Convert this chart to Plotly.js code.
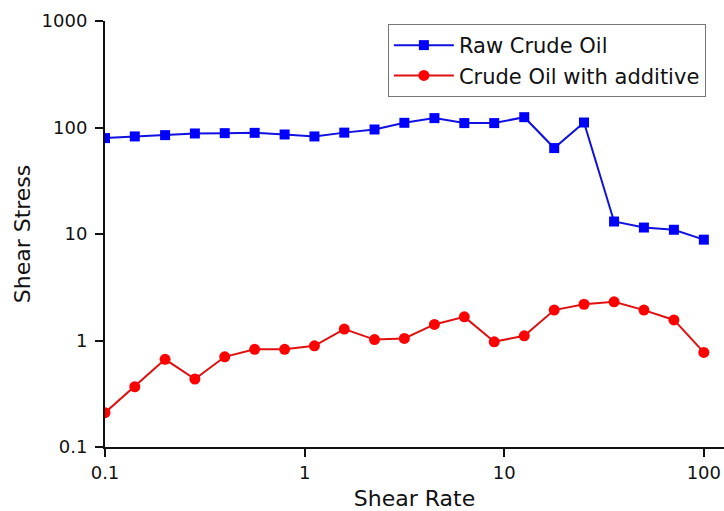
<!DOCTYPE html>
<html>
<head>
<meta charset="utf-8">
<script src="https://cdn.plot.ly/plotly-3.0.1.min.js"></script>
<style>html,body{margin:0;padding:0;background:#fff;}#chart{width:724px;height:511px;}</style>
</head>
<body>
<div id="chart"></div>
<script>
const shearRate = [0.1, 0.141, 0.2, 0.282, 0.398, 0.562, 0.794, 1.12, 1.58, 2.24, 3.16, 4.47, 6.31, 8.91, 12.6, 17.8, 25.1, 35.5, 50.1, 70.8, 100];
const rawCrude = [79.5, 82.4, 84.8, 87.9, 88.5, 89.1, 86, 82.4, 89.5, 95.8, 110.7, 122.5, 110, 110, 125, 64.1, 111.4, 13.1, 11.5, 10.96, 8.85];
const withAdditive = [0.21, 0.368, 0.665, 0.435, 0.703, 0.826, 0.826, 0.891, 1.28, 1.02, 1.046, 1.416, 1.667, 0.973, 1.107, 1.93, 2.19, 2.31, 1.93, 1.56, 0.773];
const seriesNames = ["Raw Crude Oil", "Crude Oil with additive"];
const yTickVals = [0.1, 1, 10, 100, 1000];
const yTickText = ["0.1", "1", "10", "100", "1000"];
const xTickVals = [0.1, 1, 10, 100];
const xTickText = ["0.1", "1", "10", "100"];
const minorDigits = [2, 3, 4, 5, 6, 7, 8, 9];
const yDecades = [0.1, 1, 10, 100];
const xDecades = [0.1, 1, 10, 100];

const yMinor = [];
yDecades.forEach(function (d) { minorDigits.forEach(function (m) { yMinor.push(d * m); }); });
const xMinor = [];
xDecades.forEach(function (d) { minorDigits.forEach(function (m) { xMinor.push(d * m); }); });

const font = "DejaVu Sans, Verdana, sans-serif";
const xRange = [-1, 2.101];
const yRange = [-1, 3];

const traces = [
  {
    x: shearRate, y: rawCrude, name: seriesNames[0], type: "scatter", mode: "lines+markers",
    line: {color: "#1010e0", width: 2},
    marker: {symbol: "square", size: 10, color: "#0000ff"}
  },
  {
    x: shearRate, y: withAdditive, name: seriesNames[1], type: "scatter", mode: "lines+markers",
    line: {color: "#e01010", width: 2},
    marker: {symbol: "circle", size: 11, color: "#ff0000"}
  }
];

const axisCommon = {
  type: "log",
  showline: true, linecolor: "#111", linewidth: 2,
  showgrid: false, zeroline: false,
  ticks: "outside", ticklen: 8, tickwidth: 2, tickcolor: "#111",
  tickfont: {family: font, size: 18, color: "#111"}
};

const minorCommon = {
  type: "log", tickmode: "array",
  showline: false, showgrid: false, zeroline: false, showticklabels: false,
  ticks: "outside", ticklen: 4, tickwidth: 1.5, tickcolor: "#222"
};

const layout = {
  width: 724, height: 511,
  margin: {l: 105, r: 0, t: 21, b: 64},
  paper_bgcolor: "#fff", plot_bgcolor: "#fff",
  showlegend: true,
  legend: {
    x: 0.457, y: 0.993, xanchor: "left", yanchor: "top",
    bordercolor: "#777", borderwidth: 1, bgcolor: "#fff",
    font: {family: font, size: 21, color: "#111"},
    itemwidth: 60, tracegroupgap: 0
  },
  xaxis: Object.assign({}, axisCommon, {
    range: xRange,
    tickvals: xTickVals, ticktext: xTickText,
    title: {text: "Shear Rate", font: {family: font, size: 22, color: "#111"}, standoff: 14}
  }),
  yaxis: Object.assign({}, axisCommon, {
    range: yRange,
    tickvals: yTickVals, ticktext: yTickText,
    ticklabelstandoff: 4,
    title: {text: "Shear Stress", font: {family: font, size: 22, color: "#111"}, standoff: 5}
  }),
  xaxis2: Object.assign({}, minorCommon, {
    overlaying: "x", anchor: "y", side: "bottom", range: xRange, tickvals: xMinor
  }),
  yaxis2: Object.assign({}, minorCommon, {
    overlaying: "y", anchor: "x", side: "left", range: yRange, tickvals: yMinor
  })
};

Plotly.newPlot("chart", traces, layout, {displayModeBar: false, staticPlot: true});
</script>
</body>
</html>
